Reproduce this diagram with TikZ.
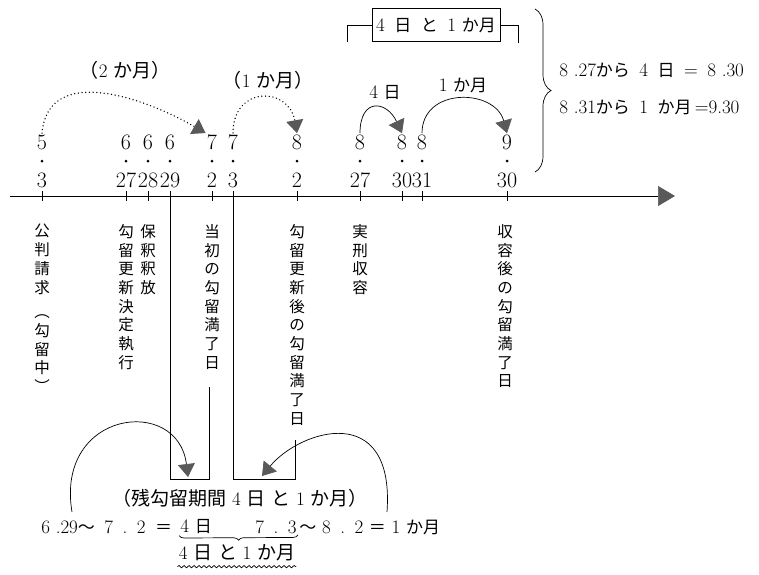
\documentclass[tikz,border=0pt]{standalone}
\usepackage{fontspec}
\usepackage{tikz}
\usetikzlibrary{positioning,arrows.meta,decorations.pathreplacing,decorations.pathmorphing}
\newfontfamily\jp{Noto Sans CJK JP}
\definecolor{tipgray}{gray}{0.35}
\newcommand{\gap}{\hspace{0.3em}}
\newcommand{\wgap}{\hspace{0.5em}}
\newcommand{\ja}[1]{{\jp\fontsize{17}{20}\selectfont #1}}

\begin{document}
\begin{tikzpicture}[x=1pt,y=-1pt,line width=0.7pt,
    >={Triangle[length=13pt,width=17pt,color=tipgray]},
    num/.style={font=\fontsize{22}{24}\selectfont,inner sep=1pt},
    lbl/.style={font=\fontsize{19}{22}\selectfont,inner sep=1pt},
    vlbl/.style={font=\jp\fontsize{15.5}{18.7}\selectfont,align=center,anchor=north,inner sep=0pt},
    dotarc/.style={dash pattern=on 0.1pt off 3.6pt,line cap=round,line width=1.4pt}]

    \useasboundingbox (0,0) rectangle (759,574);

    % time axis
    \coordinate (axs) at (10,196);
    \coordinate (axe) at (675,196);
    \draw[-{Triangle[length=17pt,width=20pt,color=tipgray]}] (axs) -- (axe);

    % dates
    \foreach \n/\x/\m/\d in {a/42/5/3,b/126/6/27,c/148/6/28,d/170/6/29,e/212/7/2,f/233/7/3,
                             g/297/8/2,h/360/8/27,i/402/8/30,j/422/8/31,k/507/9/30}{
        \coordinate (t\n) at (\x,196);
        \draw (t\n) ++(0,-5) -- ++(0,10);
        \node[num] (m\n) at (\x,142) {\m};
        \fill (\x,161) circle (1.5pt);
        \node[num] (d\n) at (\x,180) {\d};
    }

    % periods above the axis
    \draw[dotarc,->] (ma.north) to[out=85,in=150,looseness=1.1] (me.north west);
    \node[lbl] (twomonths) at (125,70) {{\jp （}2\gap{\jp か月）}};
    \draw[dotarc,->] (mf.north) to[out=90,in=100,looseness=1.9] (mg.north);
    \node[lbl] (onemonth) at (268,80) {{\jp （}1\gap{\jp か月）}};
    \draw[->] (mh.north) to[out=90,in=115,looseness=2.2] (mi.north);
    \node[lbl] (fourdays) at (385,93) {4\gap\ja{日}};
    \draw[->] (mj.north) to[out=90,in=105,looseness=1.4] (mk.north);
    \node[lbl] (month) at (463,85) {1\gap\ja{か月}};

    % bracket box
    \node[draw,lbl,minimum width=128pt,minimum height=33pt] (span) at (436,25)
        {4\wgap\ja{日}\wgap\ja{と}\wgap1\gap\ja{か月}};
    \draw (span.west) -- ++(-24,0) -- ++(0,17);
    \draw (span.east) -- ++(18,0) -- ++(0,18);

    % right brace and sums
    \coordinate (bt) at (535,9);
    \coordinate (bb) at (535,172);
    \draw[decorate,decoration={brace,amplitude=16pt}] (bt) -- (bb);
    \node[lbl,anchor=west] (sum1) at (558,70)
        {8\gap.27\ja{から}\wgap4\wgap\ja{日}\wgap=\wgap8\gap.30};
    \node[lbl,anchor=west] (sum2) at (558,107)
        {8\gap.31\ja{から}\wgap1\wgap\ja{か月}\,=9.30};

    % events below the axis
    \node[vlbl] (la) at (42,224) {公\\判\\請\\求\\[6pt]︵\\勾\\留\\中\\︶};
    \node[vlbl] (lb) at (126,224) {勾\\留\\更\\新\\決\\定\\執\\行};
    \node[vlbl] (lc) at (148,224) {保\\釈\\釈\\放};
    \node[vlbl] (le) at (212,224) {当\\初\\の\\勾\\留\\満\\了\\日};
    \node[vlbl] (lg) at (297,224) {勾\\留\\更\\新\\後\\の\\勾\\留\\満\\了\\日};
    \node[vlbl] (lh) at (360,224) {実\\刑\\収\\容};
    \node[vlbl] (lk) at (505,224) {収\\容\\後\\の\\勾\\留\\満\\了\\日};

    % remaining periods
    \coordinate (lbox) at (209,479);
    \coordinate (lboxtop) at (209,387);
    \coordinate (rbox) at (295,479);
    \coordinate (rboxtop) at (295,440);
    \draw (td) |- (lbox) -- (lboxtop);
    \draw (tf) |- (rbox) -- (rboxtop);

    \coordinate (lfrom) at (72,512);
    \coordinate (lto) at (188,477);
    \draw[->] (lfrom) .. controls (55,410) and (178,395) .. (lto);
    \coordinate (rfrom) at (387,512);
    \coordinate (rto) at (262,476);
    \draw[->] (rfrom) .. controls (395,400) and (300,430) .. (rto);

    % remaining period text
    \node[lbl] (rest) at (240,498)
        {{\jp （残勾留期間}\gap4\gap{\jp 日}\gap{\jp と}\gap1\gap{\jp か月）}};
    \node[lbl,anchor=west] (eql) at (40,527)
        {6\gap.29\ja{～}\wgap7\wgap.\wgap2\wgap\ja{＝}};
    \node[lbl,anchor=west] (fourd) at (179,527) {4\gap\ja{日}};
    \node[lbl,anchor=east] (seventhree) at (298,527) {7\wgap.\wgap3};
    \node[lbl,right=0pt of seventhree] (eqr)
        {\ja{～}\gap8\wgap.\wgap2\gap\ja{＝}\gap1\gap\ja{か月}};
    \draw[decorate,decoration={brace,mirror,amplitude=5pt}]
        (fourd.south west) -- (seventhree.south east);
    \node[lbl] (total) at (237,553) {4\gap{\jp 日}\gap{\jp と}\gap1\gap{\jp か月}};
    \draw[decorate,decoration={snake,amplitude=1.2pt,segment length=5pt}]
        ([yshift=-4pt]total.south west) -- ([yshift=-4pt]total.south east);
\end{tikzpicture}
\end{document}
